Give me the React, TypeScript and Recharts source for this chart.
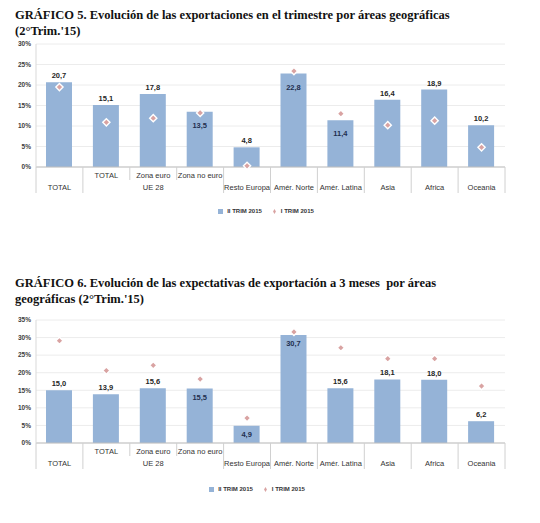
import React from 'react';
import { ComposedChart, Bar, Line, XAxis, YAxis, CartesianGrid, Legend, LabelList } from 'recharts';

// categories on the x axis (two levels: sub label + group label)
const categories = ['TOTAL', 'UE28 TOTAL', 'Zona euro', 'Zona no euro', 'Resto Europa', 'Amér. Norte', 'Amér. Latina', 'Asia', 'Africa', 'Oceania'];
const subLabels = ['', 'TOTAL', 'Zona euro', 'Zona no euro', '', '', '', '', '', ''];
const groupLabels = ['TOTAL', '', 'UE 28', '', 'Resto Europa', 'Amér. Norte', 'Amér. Latina', 'Asia', 'Africa', 'Oceania'];

// Gráfico 5: exportaciones en el trimestre
const exportsQ2 = [20.7, 15.1, 17.8, 13.5, 4.8, 22.8, 11.4, 16.4, 18.9, 10.2];
const exportsQ1 = [19.5, 10.9, 11.9, 13.2, 0.3, 23.4, 13.0, 10.2, 11.3, 4.8];
const exportsTicks = [0, 5, 10, 15, 20, 25, 30];

// Gráfico 6: expectativas de exportación a 3 meses
const expectQ2 = [15.0, 13.9, 15.6, 15.5, 4.9, 30.7, 15.6, 18.1, 18.0, 6.2];
const expectQ1 = [29.1, 20.6, 22.1, 18.2, 7.1, 31.6, 27.1, 24.0, 24.0, 16.2];
const expectTicks = [0, 5, 10, 15, 20, 25, 30, 35];

const seriesNames = ['II TRIM 2015', 'I TRIM 2015'];

const W = 540;
const Y_W = 36;
const RIGHT = 35;
const BAND = (W - Y_W - RIGHT) / categories.length;
const BAR_COLOR = '#95b3d7';
const DOT_COLOR = '#d9a3a2';
const SANS = '"Liberation Sans", Arial, sans-serif';

const fmt = (v: number) => v.toFixed(1).replace('.', ',');

function CategoryTick(props: any) {
  const { x, y, index } = props;
  const left = x - BAND / 2;
  const isShort = (i: number) => i > 0 && subLabels[i] !== '' && subLabels[i - 1] !== '';
  const last = index === categories.length - 1;
  return (
    <g>
      <line x1={left} x2={left} y1={y} y2={y + (isShort(index) ? 13 : 26)} stroke="#d0d0d0" />
      {last && <line x1={left + BAND} x2={left + BAND} y1={y} y2={y + 26} stroke="#d0d0d0" />}
      <text x={x} y={y + 11} textAnchor="middle" fontSize={7.5} fontFamily={SANS} fill="#333">
        {subLabels[index]}
      </text>
      <text x={x} y={y + 23} textAnchor="middle" fontSize={7.5} fontFamily={SANS} fill="#333">
        {groupLabels[index]}
      </text>
    </g>
  );
}

function Diamond(props: any) {
  const { cx, cy, index } = props;
  if (cx == null || cy == null) return <g key={index} />;
  const r = 3.6;
  return (
    <path
      key={index}
      d={`M${cx},${cy - r}L${cx + r},${cy}L${cx},${cy + r}L${cx - r},${cy}Z`}
      fill={DOT_COLOR}
      stroke="#fff"
      strokeWidth={1.4}
    />
  );
}

interface BlockProps {
  top: number;
  height: number;
  marginTop: number;
  marginBottom: number;
  cur: number[];
  prev: number[];
  ticks: number[];
  insideOffset: number;
  legendTop: number;
  legendLeft: number;
}

function ChartBlock({ top, height, marginTop, marginBottom, cur, prev, ticks, insideOffset, legendTop, legendLeft }: BlockProps) {
  const data = categories.map((name, i) => ({ name, cur: cur[i], prev: prev[i] }));

  const renderLabel = (p: any) => {
    const { x, y, width, index, value } = p;
    const d = prev[index] - cur[index];
    const inside = d > -1 && d < 3;
    return (
      <text
        x={x + width / 2}
        y={inside ? y + insideOffset : y - 4}
        textAnchor="middle"
        fontSize={7.5}
        fontWeight="bold"
        fontFamily={SANS}
        fill={inside ? '#1f2f4f' : '#262626'}
      >
        {fmt(value)}
      </text>
    );
  };

  return (
    <div style={{ position: 'absolute', left: 0, top, width: W, height }}>
      <ComposedChart
        width={W}
        height={height}
        data={data}
        margin={{ top: marginTop, right: RIGHT, left: 0, bottom: marginBottom }}
        barCategoryGap={0}
      >
        <CartesianGrid vertical={false} stroke="#ececec" />
        <XAxis
          dataKey="name"
          height={35}
          interval={0}
          tickLine={false}
          tickSize={0}
          tickMargin={0}
          axisLine={{ stroke: '#bfbfbf' }}
          tick={<CategoryTick />}
        />
        <YAxis
          width={Y_W}
          domain={[0, ticks[ticks.length - 1]]}
          ticks={ticks}
          interval={0}
          tickLine={false}
          tickSize={0}
          tickMargin={5}
          axisLine={{ stroke: '#d9d9d9' }}
          tickFormatter={(v: number) => `${v}%`}
          tick={{ fontSize: 6.5, fontFamily: SANS, fontWeight: 'bold', fill: '#404040' }}
        />
        <Bar dataKey="cur" name={seriesNames[0]} fill={BAR_COLOR} barSize={26} legendType="square" isAnimationActive={false}>
          <LabelList dataKey="cur" content={renderLabel} />
        </Bar>
        <Line
          dataKey="prev"
          name={seriesNames[1]}
          stroke={DOT_COLOR}
          strokeWidth={0}
          dot={Diamond}
          activeDot={false}
          legendType="diamond"
          isAnimationActive={false}
        />
        <Legend
          verticalAlign="middle"
          align="center"
          iconSize={5}
          itemSorter={(item: any) => (item.dataKey === 'cur' ? 0 : 1)}
          wrapperStyle={{ top: legendTop, left: legendLeft, width: W, fontSize: 6, fontFamily: SANS, fontWeight: 'bold' }}
          formatter={(v: string) => <span style={{ color: '#333' }}>{v}</span>}
        />
      </ComposedChart>
    </div>
  );
}

const titleStyle: React.CSSProperties = {
  position: 'absolute',
  left: 15,
  fontFamily: '"Liberation Serif", "Times New Roman", serif',
  fontWeight: 'bold',
  fontSize: 12.5,
  lineHeight: '16px',
  color: '#111',
  whiteSpace: 'nowrap',
};

export default function App() {
  return (
    <div style={{ position: 'absolute', left: 0, top: 0, width: W, height: 523, background: '#fff', overflow: 'hidden' }}>
      <div style={{ ...titleStyle, top: 7 }}>
        GRÁFICO 5. Evolución de las exportaciones en el trimestre por áreas geográficas
        <br />
        (2°Trim.'15)
      </div>
      <ChartBlock
        top={0}
        height={230}
        marginTop={44}
        marginBottom={28}
        cur={exportsQ2}
        prev={exportsQ1}
        ticks={exportsTicks}
        insideOffset={16}
        legendTop={208}
        legendLeft={1}
      />
      <div style={{ ...titleStyle, top: 275 }}>
        GRÁFICO 6. Evolución de las expectativas de exportación a 3 meses&nbsp; por áreas
        <br />
        geográficas (2°Trim.'15)
      </div>
      <ChartBlock
        top={260}
        height={263}
        marginTop={60}
        marginBottom={45}
        cur={expectQ2}
        prev={expectQ1}
        ticks={expectTicks}
        insideOffset={11}
        legendTop={226}
        legendLeft={-8}
      />
    </div>
  );
}
